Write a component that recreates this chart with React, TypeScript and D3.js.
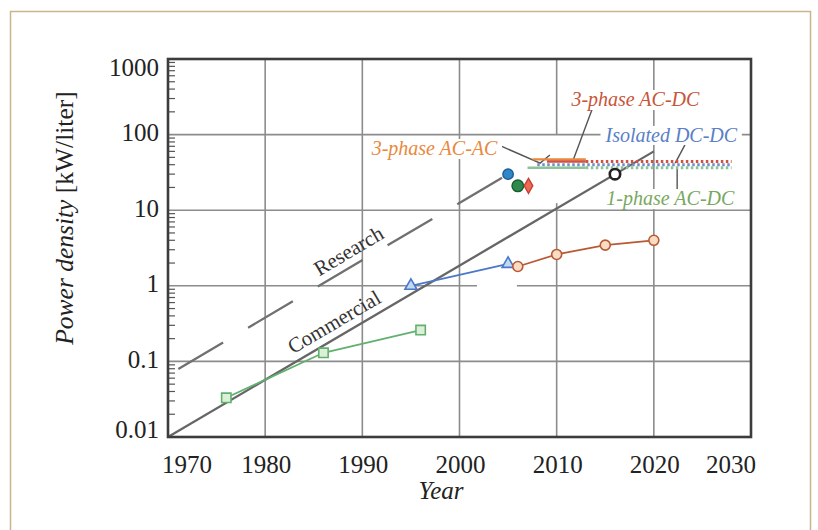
import React, { useRef, useEffect } from "react";
import { select, scaleLinear, scaleLog, line, symbol, symbolSquare, symbolTriangle, symbolDiamond, range } from "d3";

// axis ticks
const xTicks = [1970, 1980, 1990, 2000, 2010, 2020, 2030];
const yTicks = [0.01, 0.1, 1, 10, 100, 1000];
const yTickLabels = ["0.01", "0.1", "1", "10", "100", "1000"];

// trend lines
const commercialYears = [1970, 2020];
const commercialValues = [0.01, 60];
const researchYears = [1970, 2005];
const researchValues = [0.066, 30];

// measured series
const squareYears = [1976, 1986, 1996];
const squareValues = [0.033, 0.13, 0.26];
const triangleYears = [1995, 2005];
const triangleValues = [1.0, 1.95];
const circleYears = [2006, 2010, 2015, 2020];
const circleValues = [1.8, 2.6, 3.45, 4.0];

// single points
const blueDot = [2005, 30];
const greenDot = [2006, 21];
const redDiamond = [2007.1, 21];
const blackRing = [2016, 30];

// target lines (solid part, then dotted part)
const targetNames = ["3-phase AC-AC", "3-phase AC-DC", "Isolated DC-DC", "1-phase AC-DC"];
const targetValues = [47, 44, 40, 36.5];
const targetSolidFrom = [2007.5, 2009, 2008, 2007];
const targetSolidTo = [2013, 2013, 2008, 2013];
const targetDottedTo = [2013, 2028, 2028, 2028];
const targetColors = ["#e8893e", "#d4503a", "#6f8fd0", "#8cc49a"];

// annotation labels
const labelTexts = ["3-phase AC-DC", "Isolated DC-DC", "1-phase AC-DC", "3-phase AC-AC"];
const labelYears = [2018.1, 2021.8, 2021.7, 2003.9];
const labelValues = [239, 80, 11.7, 53.7];
const labelAnchors = ["middle", "middle", "middle", "end"];
const labelColors = ["#c8553a", "#5a80c8", "#78a860", "#e8893e"];
const leaderLines = [
  [[2013.7, 225], [2011.7, 46]],
  [[2023.2, 73], [2022.2, 42]],
  [[2022.4, 36], [2022.4, 17.4]],
  [[2004, 73], [2008.3, 42], [2009.3, 53.7]],
];

// places where the grid is left blank in the original
const vGridGapYear = 2010;
const vGridGap = [12.4, 100];
const hGridGapValue = 1;
const hGridGap = [2001.8, 2005.9];

const W = 818;
const H = 530;
const serif = "Liberation Serif, Times New Roman, Times, serif";

const App: React.FC = () => {
  const svgRef = useRef<SVGSVGElement>(null);

  useEffect(() => {
    const svg = select(svgRef.current);
    svg.selectAll("*").remove();

    const x = scaleLinear().domain([1970, 2030]).range([168, 751]);
    const y = scaleLog().domain([0.01, 1000]).range([437, 59]);

    svg.append("rect").attr("width", W).attr("height", H).attr("fill", "#fff");
    svg
      .append("rect")
      .attr("x", 10.5)
      .attr("y", 11.5)
      .attr("width", 800)
      .attr("height", 540)
      .attr("fill", "#fff")
      .attr("stroke", "#c9b48c")
      .attr("stroke-width", 1.5);

    const g = svg.append("g");
    const gridLine = (x1: number, y1: number, x2: number, y2: number) =>
      g.append("line")
        .attr("x1", x1).attr("y1", y1).attr("x2", x2).attr("y2", y2)
        .attr("stroke", "#8c8c8c").attr("stroke-width", 1.6);

    // grid
    xTicks.slice(1, -1).forEach((t) => {
      if (t === vGridGapYear) {
        gridLine(x(t), y(1000), x(t), y(vGridGap[1]));
        gridLine(x(t), y(vGridGap[0]), x(t), y(0.01));
      } else gridLine(x(t), y(1000), x(t), y(0.01));
    });
    yTicks.slice(1, -1).forEach((t) => {
      if (t === hGridGapValue) {
        gridLine(x(1970), y(t), x(hGridGap[0]), y(t));
        gridLine(x(hGridGap[1]), y(t), x(2030), y(t));
      } else gridLine(x(1970), y(t), x(2030), y(t));
    });

    // minor ticks on left axis
    yTicks.slice(0, -1).forEach((t) => {
      range(2, 10).forEach((m) => {
        g.append("line")
          .attr("x1", x(1970)).attr("x2", x(1970) + 7)
          .attr("y1", y(t * m)).attr("y2", y(t * m))
          .attr("stroke", "#555").attr("stroke-width", 1.2);
      });
    });

    // labels with white boxes (drawn before data so boxes hide the grid)
    const labelG = svg.append("g");
    const drawLabel = (i: number) => {
      const t = labelG
        .append("text")
        .attr("x", x(labelYears[i]))
        .attr("y", y(labelValues[i]))
        .attr("text-anchor", labelAnchors[i])
        .attr("font-family", serif)
        .attr("font-style", "italic")
        .attr("font-size", 20)
        .attr("fill", labelColors[i])
        .text(labelTexts[i]);
      const b = (t.node() as SVGTextElement).getBBox();
      labelG
        .insert("rect", "text")
        .attr("x", b.x - 4)
        .attr("y", b.y + 2)
        .attr("width", b.width + 8)
        .attr("height", b.height - 3)
        .attr("fill", "#fff");
    };
    labelTexts.forEach((_, i) => drawLabel(i));

    const lineGen = line<number[]>()
      .x((d) => x(d[0]))
      .y((d) => y(d[1]));
    const zip = (xs: number[], ys: number[]) => xs.map((v, i) => [v, ys[i]]);

    // leader lines
    leaderLines.forEach((pts) => {
      g.append("path")
        .attr("d", lineGen(pts))
        .attr("fill", "none")
        .attr("stroke", "#555")
        .attr("stroke-width", 1.4);
    });

    // research (dashed) and commercial trend lines
    g.append("path")
      .attr("d", lineGen(zip(researchYears, researchValues)))
      .attr("fill", "none")
      .attr("stroke", "#707070")
      .attr("stroke-width", 2.3)
      .attr("stroke-dasharray", "52 29")
      .attr("stroke-dashoffset", 69);
    g.append("path")
      .attr("d", lineGen(zip(commercialYears, commercialValues)))
      .attr("fill", "none")
      .attr("stroke", "#666")
      .attr("stroke-width", 2.3);

    // trend labels rotated along the lines
    const angle = (xs: number[], ys: number[]) =>
      (Math.atan2(y(ys[1]) - y(ys[0]), x(xs[1]) - x(xs[0])) * 180) / Math.PI;
    const trendLabel = (txt: string, yr: number, val: number, a: number) => {
      g.append("text")
        .attr("transform", `translate(${x(yr)},${y(val)}) rotate(${a})`)
        .attr("text-anchor", "middle")
        .attr("dominant-baseline", "central")
        .attr("font-family", serif)
        .attr("font-size", 21)
        .attr("fill", "#333")
        .text(txt);
    };
    trendLabel("Research", 1988.6, 2.89, angle(researchYears, researchValues));
    trendLabel("Commercial", 1987.1, 0.332, angle(commercialYears, commercialValues));

    // target lines
    targetNames.forEach((_, i) => {
      if (targetSolidTo[i] > targetSolidFrom[i]) {
        g.append("line")
          .attr("x1", x(targetSolidFrom[i])).attr("x2", x(targetSolidTo[i]))
          .attr("y1", y(targetValues[i])).attr("y2", y(targetValues[i]))
          .attr("stroke", targetColors[i]).attr("stroke-width", 2.4);
      }
      if (targetDottedTo[i] > targetSolidTo[i]) {
        g.append("line")
          .attr("x1", x(targetSolidTo[i])).attr("x2", x(targetDottedTo[i]))
          .attr("y1", y(targetValues[i])).attr("y2", y(targetValues[i]))
          .attr("stroke", targetColors[i]).attr("stroke-width", 3)
          .attr("stroke-dasharray", "2.5 2.5");
      }
    });

    // series lines + markers
    const series = (
      xs: number[], ys: number[], stroke: string, fill: string,
      mark: (sel: any, px: number, py: number) => void
    ) => {
      g.append("path")
        .attr("d", lineGen(zip(xs, ys)))
        .attr("fill", "none")
        .attr("stroke", stroke)
        .attr("stroke-width", 1.8);
      xs.forEach((v, i) => {
        const m = g.append("g").attr("fill", fill).attr("stroke", stroke).attr("stroke-width", 1.6);
        mark(m, x(v), y(ys[i]));
      });
    };
    const sym = (type: any, size: number) => (sel: any, px: number, py: number) =>
      sel.append("path").attr("transform", `translate(${px},${py})`).attr("d", symbol(type, size)());
    const circ = (r: number) => (sel: any, px: number, py: number) =>
      sel.append("circle").attr("cx", px).attr("cy", py).attr("r", r);

    series(squareYears, squareValues, "#62b070", "#dcf0d8", sym(symbolSquare, 88));
    series(triangleYears, triangleValues, "#4a78c8", "#c4d8f2", sym(symbolTriangle, 62));
    series(circleYears, circleValues, "#b85a34", "#fadcc4", circ(5));

    // single points
    g.append("circle").attr("cx", x(blueDot[0])).attr("cy", y(blueDot[1])).attr("r", 5.2)
      .attr("fill", "#2f86c8").attr("stroke", "#1c5c98").attr("stroke-width", 1.4);
    g.append("circle").attr("cx", x(greenDot[0])).attr("cy", y(greenDot[1])).attr("r", 5.8)
      .attr("fill", "#2e8a4c").attr("stroke", "#1a5a30").attr("stroke-width", 1.4);
    g.append("path").attr("transform", `translate(${x(redDiamond[0])},${y(redDiamond[1])})`)
      .attr("d", symbol(symbolDiamond, 64)())
      .attr("fill", "#ec6a58").attr("stroke", "#c8402e").attr("stroke-width", 1.4);
    g.append("circle").attr("cx", x(blackRing[0])).attr("cy", y(blackRing[1])).attr("r", 5.2)
      .attr("fill", "#fff").attr("stroke", "#222").attr("stroke-width", 2.6);

    // frame
    g.append("rect")
      .attr("x", x(1970)).attr("y", y(1000))
      .attr("width", x(2030) - x(1970)).attr("height", y(0.01) - y(1000))
      .attr("fill", "none").attr("stroke", "#3c3c3c").attr("stroke-width", 2.6);

    // tick labels (end labels pulled inside the frame, as in the original)
    xTicks.forEach((t, i) => {
      const first = i === 0;
      const last = i === xTicks.length - 1;
      g.append("text")
        .attr("x", first ? x(t) - 6 : last ? x(t) + 5 : x(t) + 1)
        .attr("y", 473)
        .attr("text-anchor", first ? "start" : last ? "end" : "middle")
        .attr("font-family", serif).attr("font-size", 25).attr("fill", "#222")
        .text(t);
    });
    yTicks.forEach((t, i) => {
      const first = i === 0;
      const last = i === yTicks.length - 1;
      g.append("text")
        .attr("x", 159)
        .attr("y", first ? y(t) + 1 : last ? y(t) + 17 : y(t) - 2)
        .attr("dy", first ? "0" : last ? "0" : "0.34em")
        .attr("text-anchor", "end")
        .attr("font-family", serif).attr("font-size", 25).attr("fill", "#222")
        .text(yTickLabels[i]);
    });

    // axis titles
    g.append("text")
      .attr("x", 441).attr("y", 499)
      .attr("text-anchor", "middle")
      .attr("font-family", serif).attr("font-style", "italic").attr("font-size", 25).attr("fill", "#222")
      .text("Year");
    const yt = g.append("text")
      .attr("transform", `translate(73,218) rotate(-90)`)
      .attr("text-anchor", "middle")
      .attr("font-family", serif).attr("font-size", 25.5).attr("fill", "#222");
    yt.append("tspan").attr("font-style", "italic").text("Power density ");
    yt.append("tspan").text("[kW/liter]");
  }, []);

  return (
    <svg
      ref={svgRef}
      width={W}
      height={H}
      viewBox={`0 0 ${W} ${H}`}
      style={{ position: "absolute", left: 0, top: 0, display: "block" }}
    />
  );
};

export default App;
